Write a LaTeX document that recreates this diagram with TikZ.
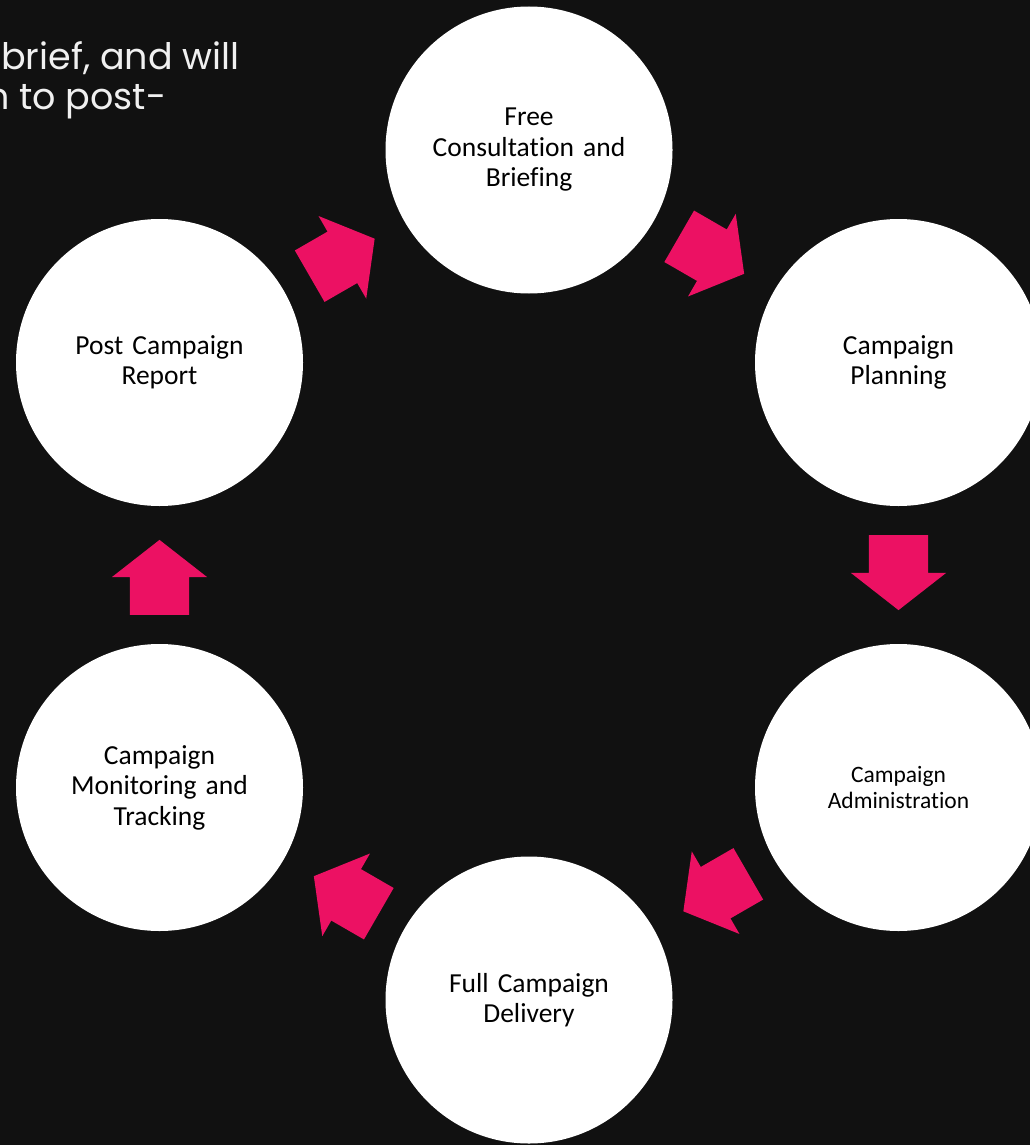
\documentclass[tikz,border=0pt]{standalone}
\usepackage{fontspec}
\setmainfont{Carlito}[Ligatures=NoCommon]
\newfontfamily\headfont{Poppins}
\usepackage{xcolor}
\usetikzlibrary{shapes,arrows,positioning,calc}

\definecolor{bgdark}{HTML}{111111}
\definecolor{flowpink}{HTML}{EC1163}
\definecolor{introgray}{HTML}{F0F0F0}

\begin{document}
\begin{tikzpicture}[
    x=1pt, y=-1pt,
    stage/.style={circle, fill=white, minimum size=287pt, inner sep=0pt, text width=220pt, align=center, font=\fontsize{27.5}{30.5}\selectfont},
    flow/.style={single arrow, fill=flowpink, minimum height=75pt, inner xsep=0pt, inner ysep=29.5pt, single arrow head extend=18pt, single arrow tip angle=104, rotate=#1, xshift=-14pt},
    intro/.style={anchor=base west, text=introgray, inner sep=0pt, font=\headfont\fontsize{36.5}{40}\selectfont}
]

% Background
\useasboundingbox (0,0) rectangle (1030,1145);
\fill [bgdark] (0,0) rectangle (1030,1145);
\clip (0,0) rectangle (1030,1145);

% Intro text
\node (intro1) [intro] at (1,70) {brief, and will};
\node (intro2) [intro] at (-14,110) {n to post-};

% Stages
\node (brief) [stage] at (529,150) {Free\\Consultation and\\Briefing};
\node (plan) [stage] at (898.5,362.5) {Campaign\\Planning};
\node (admin) [stage, font=\fontsize{23.5}{26}\selectfont] at (898.5,787.5) {Campaign\\Administration};
\node (deliver) [stage] at (529,1000) {Full Campaign\\Delivery};
\node (track) [stage] at (159.5,787.5) {Campaign\\Monitoring and\\Tracking};
\node (report) [stage] at (159.5,362.5) {Post Campaign\\Report};

% Flow arrows
\node (a1) [flow=-30] at ($(brief)!0.5!(plan)$) {};
\node (a2) [flow=-90] at ($(plan)!0.5!(admin)$) {};
\node (a3) [flow=210] at ($(admin)!0.5!(deliver)$) {};
\node (a4) [flow=150] at ($(deliver)!0.5!(track)$) {};
\node (a5) [flow=90] at ($(track)!0.5!(report)$) {};
\node (a6) [flow=30] at ($(report)!0.5!(brief)$) {};

\end{tikzpicture}
\end{document}
